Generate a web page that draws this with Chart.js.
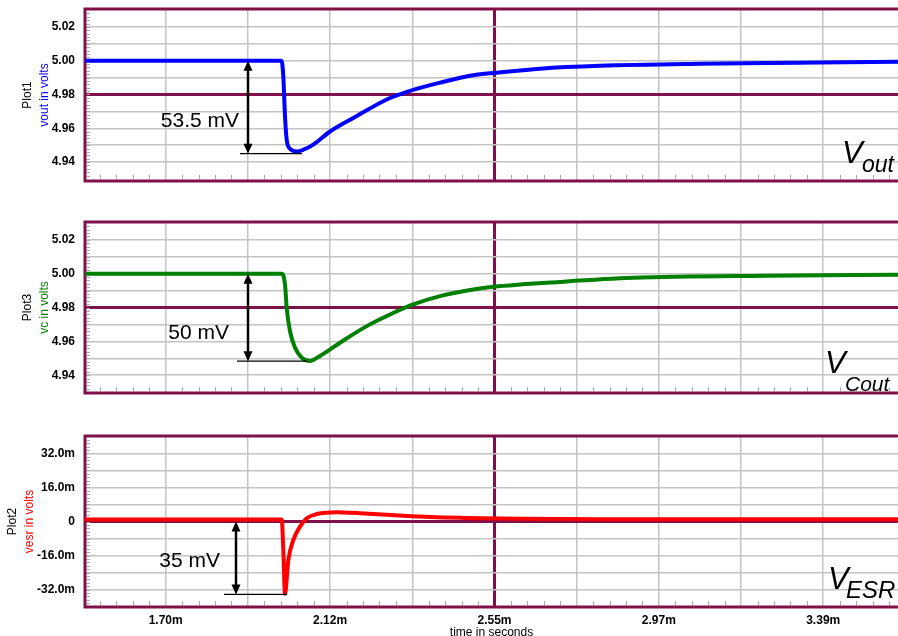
<!DOCTYPE html>
<html>
<head>
<meta charset="utf-8">
<script src="https://cdn.jsdelivr.net/npm/chart.js@4.4.1/dist/chart.umd.min.js"></script>
<style>
html, body { margin: 0; padding: 0; background: #fff; }
#wrap { position: relative; width: 898px; height: 636px; overflow: hidden; }
#wrap canvas { position: absolute; left: 0; top: 0; }
</style>
</head>
<body>
<div id="wrap">
  <canvas id="plot1" width="898" height="636"></canvas>
  <canvas id="plot3" width="898" height="636"></canvas>
  <canvas id="plot2" width="898" height="636"></canvas>
</div>
<script>
// time axis, in ms
const timeMin = 1.4922, timeMax = 3.5859;
const timeGrid = [1.7000, 1.9117, 2.1233, 2.3350, 2.5467, 2.7583, 2.9700, 3.1817, 3.3933];
const timeLabels = ['1.70m', '', '2.12m', '', '2.55m', '', '2.97m', '', '3.39m'];

// voltage axes (Plot1 / Plot3)
const voltGrid = [4.94, 4.95, 4.96, 4.97, 4.98, 4.99, 5.00, 5.01, 5.02];
const voltLabels = ['4.94', '', '4.96', '', '4.98', '', '5.00', '', '5.02'];
// esr axis (Plot2), in mV
const esrGrid = [-32, -24, -16, -8, 0, 8, 16, 24, 32];
const esrLabels = ['-32.0m', '', '-16.0m', '', '0', '', '16.0m', '', '32.0m'];

// vout
const tVout = [1.4922, 1.9983, 2.0029, 2.0073, 2.0116, 2.0201, 2.0374, 2.0544, 2.0801, 2.1232, 2.1832,
               2.2733, 2.3215, 2.4064, 2.4914, 2.5532, 2.6640, 2.8185, 3.0760, 3.3335, 3.5859];
const vout = [5.000, 5.000, 4.9907, 4.9670, 4.9532, 4.9479, 4.9463, 4.9473, 4.9503, 4.9581, 4.9661,
              4.9775, 4.9816, 4.9870, 4.9914, 4.9929, 4.9953, 4.9970, 4.9982, 4.9988, 4.9994];
// vc
const tVc = [1.4922, 1.9988, 2.0073, 2.0116, 2.0201, 2.0330, 2.0503, 2.0716, 2.0974, 2.1489, 2.2177,
             2.2777, 2.3377, 2.4064, 2.4922, 2.5437, 2.7154, 2.9034, 3.2485, 3.5859];
const vc = [5.000, 5.000, 4.9935, 4.9798, 4.9661, 4.9563, 4.9504, 4.9484, 4.9514, 4.9592, 4.9690,
            4.9759, 4.9818, 4.9867, 4.9906, 4.9922, 4.9951, 4.9975, 4.9988, 4.9994];
// vesr (mV)
const tVesr = [1.4922, 1.9988, 2.0029, 2.0073, 2.0158, 2.0287, 2.0459, 2.0632, 2.0889, 2.1404, 2.2004,
               2.3120, 2.3807, 2.4665, 2.6125, 2.8185, 3.5859];
const vesr = [0.9, 0.9, -13.4, -34.0, -18.1, -8.7, -2.4, 1.5, 3.5, 4.4, 3.9,
              2.7, 2.1, 1.7, 1.3, 1.0, 1.0];

const MAROON = '#80104a';
const GRID = '#c4c4c4';
const FONT = "'Liberation Sans', Arial, sans-serif";

const pts = (ts, vs) => ts.map((t, i) => ({ x: t, y: vs[i] }));

// small tick marks along bottom edge: 5 per grid interval
const gridStep = timeGrid[1] - timeGrid[0];
const minorTimes = [];
for (let i = -5; i < timeGrid.length * 5 + 5; i++) {
  if (i % 5 === 0) continue;
  minorTimes.push(timeGrid[0] + i * gridStep / 5);
}

const decor = {
  id: 'decor',
  beforeDatasetsDraw(chart, args, o) {
    const { ctx, chartArea: a, scales: { x, y } } = chart;
    ctx.save();
    ctx.strokeStyle = '#a8a8a8';
    ctx.lineWidth = 1;
    ctx.beginPath();
    minorTimes.forEach(t => {
      const px = Math.round(x.getPixelForValue(t)) + 0.5;
      if (px < a.left + 3 || px > a.right) return;
      ctx.moveTo(px, a.bottom - 1.5);
      ctx.lineTo(px, a.bottom - 6);
    });
    for (let i = 0; ; i++) {
      const v = o.minorStart + i * o.minorStep;
      if (v > y.max) break;
      const py = Math.round(y.getPixelForValue(v)) + 0.5;
      if (py < a.top + 2 || py > a.bottom - 2) continue;
      ctx.moveTo(a.left + 1.5, py);
      ctx.lineTo(a.left + 5, py);
    }
    ctx.stroke();
    // frame
    ctx.strokeStyle = MAROON;
    ctx.lineWidth = 3;
    ctx.beginPath();
    ctx.moveTo(a.right + 3, a.top);
    ctx.lineTo(a.left, a.top);
    ctx.lineTo(a.left, a.bottom);
    ctx.lineTo(a.right + 3, a.bottom);
    ctx.stroke();
    ctx.restore();
  },
  afterDatasetsDraw(chart, args, o) {
    const { ctx, chartArea: a, scales: { x, y } } = chart;
    ctx.save();
    // measurement arrow
    const n = o.note;
    const ax = Math.round(x.getPixelForValue(n.at));
    const y1 = y.getPixelForValue(n.top), y2 = y.getPixelForValue(n.bottom);
    ctx.strokeStyle = '#000';
    ctx.fillStyle = '#000';
    ctx.lineWidth = 1.2;
    ctx.beginPath();
    ctx.moveTo(x.getPixelForValue(n.from), y2);
    ctx.lineTo(x.getPixelForValue(n.to), y2);
    ctx.stroke();
    ctx.lineWidth = 2.5;
    ctx.beginPath();
    ctx.moveTo(ax, y1 + 6);
    ctx.lineTo(ax, y2 - 6);
    ctx.stroke();
    ctx.beginPath();
    ctx.moveTo(ax, y1); ctx.lineTo(ax - 4.5, y1 + 10); ctx.lineTo(ax + 4.5, y1 + 10); ctx.closePath();
    ctx.moveTo(ax, y2); ctx.lineTo(ax - 4.5, y2 - 10); ctx.lineTo(ax + 4.5, y2 - 10); ctx.closePath();
    ctx.fill();
    ctx.font = '21px ' + FONT;
    ctx.textAlign = 'right';
    ctx.textBaseline = 'middle';
    ctx.fillText(n.text, x.getPixelForValue(n.textX), y.getPixelForValue(n.textY));

    // big signal name
    const s = o.sig;
    ctx.textAlign = 'left';
    ctx.textBaseline = 'alphabetic';
    ctx.font = 'italic 31px ' + FONT;
    ctx.fillText('V', a.right - s.vx, a.bottom - s.vy);
    ctx.font = 'italic ' + s.subSize + 'px ' + FONT;
    ctx.fillText(s.sub, a.right - s.sx, a.bottom - s.sy);

    // rotated axis names
    const cy = (a.top + a.bottom) / 2;
    ctx.font = '12px ' + FONT;
    ctx.textAlign = 'center';
    ctx.textBaseline = 'middle';
    o.names.forEach(nm => {
      ctx.save();
      ctx.translate(nm.x, cy);
      ctx.rotate(-Math.PI / 2);
      ctx.fillStyle = nm.color;
      ctx.fillText(nm.text, 0, 0);
      ctx.restore();
    });
    ctx.restore();
  }
};

function makeChart(id, opts) {
  return new Chart(document.getElementById(id), {
    type: 'line',
    data: {
      datasets: [{
        data: opts.data,
        borderColor: opts.color,
        borderWidth: 4,
        pointRadius: 0,
        cubicInterpolationMode: 'monotone',
        fill: false
      }]
    },
    options: {
      responsive: false,
      devicePixelRatio: 1,
      animation: false,
      events: [],
      layout: { padding: opts.padding },
      plugins: {
        legend: { display: false },
        tooltip: { enabled: false },
        decor: opts.decor
      },
      scales: {
        x: {
          type: 'linear',
          min: timeMin,
          max: timeMax,
          afterBuildTicks: s => { s.ticks = timeGrid.map(v => ({ value: v })); },
          afterFit: s => { s.height = opts.xHeight; s.paddingLeft = 0; s.paddingRight = 0; },
          border: { display: false },
          grid: {
            drawTicks: false,
            color: c => c.tick && c.tick.value === 2.5467 ? MAROON : GRID,
            lineWidth: c => c.tick && c.tick.value === 2.5467 ? 3 : 1.5
          },
          ticks: {
            display: opts.xLabels,
            autoSkip: false,
            maxRotation: 0,
            minRotation: 0,
            padding: 6,
            color: '#000',
            font: { family: FONT, size: 12, weight: 'bold' },
            callback: (v, i) => timeLabels[i]
          },
          title: {
            display: opts.xLabels,
            text: 'time in seconds',
            color: '#000',
            padding: { top: 0, bottom: -3 },
            font: { family: FONT, size: 12, lineHeight: 1 }
          }
        },
        y: {
          type: 'linear',
          min: opts.yMin,
          max: opts.yMax,
          afterBuildTicks: s => { s.ticks = opts.yGrid.map(v => ({ value: v })); },
          afterFit: s => { s.width = 85; s.paddingTop = 0; s.paddingBottom = 0; },
          border: { display: false },
          grid: {
            drawTicks: false,
            color: c => c.tick && c.tick.value === opts.yCenter ? MAROON : GRID,
            lineWidth: c => c.tick && c.tick.value === opts.yCenter ? 3 : 1.5
          },
          ticks: {
            autoSkip: false,
            padding: 10,
            color: '#000',
            font: { family: FONT, size: 12, weight: 'bold' },
            callback: (v, i) => opts.yLabels[i]
          }
        }
      }
    },
    plugins: [decor]
  });
}

makeChart('plot1', {
  data: pts(tVout, vout), color: '#0000ff',
  padding: { top: 9, bottom: 455, left: 0, right: 0 }, xHeight: 0, xLabels: false,
  yMin: 4.9288, yMax: 5.0306, yGrid: voltGrid, yLabels: voltLabels, yCenter: 4.98,
  decor: {
    minorStart: 4.930, minorStep: 0.002,
    note: { at: 1.9117, top: 5.000, bottom: 4.9450, from: 1.8914, to: 2.0510,
            text: '53.5 mV', textX: 1.8888, textY: 4.9640 },
    sig: { sub: 'out', subSize: 23, vx: 56, vy: 18, sx: 36, sy: 9 },
    names: [{ text: 'Plot1', color: '#000', x: 28 }, { text: 'vout in volts', color: '#0000ff', x: 45 }]
  }
});

makeChart('plot3', {
  data: pts(tVc, vc), color: '#008000',
  padding: { top: 222, bottom: 243, left: 0, right: 0 }, xHeight: 0, xLabels: false,
  yMin: 4.9295, yMax: 5.0305, yGrid: voltGrid, yLabels: voltLabels, yCenter: 4.98,
  decor: {
    minorStart: 4.930, minorStep: 0.002,
    note: { at: 1.9117, top: 5.000, bottom: 4.9483, from: 1.8836, to: 2.0640,
            text: '50 mV', textX: 1.8630, textY: 4.9646 },
    sig: { sub: 'Cout', subSize: 21, vx: 73, vy: 20, sx: 53, sy: 2 },
    names: [{ text: 'Plot3', color: '#000', x: 28 }, { text: 'vc in volts', color: '#008000', x: 45 }]
  }
});

makeChart('plot2', {
  data: pts(tVesr, vesr), color: '#ff0000',
  padding: { top: 436, bottom: 0, left: 0, right: 0 }, xHeight: 29, xLabels: true,
  yMin: -40.2, yMax: 40.2, yGrid: esrGrid, yLabels: esrLabels, yCenter: 0,
  decor: {
    minorStart: -40, minorStep: 1.6,
    note: { at: 1.8811, top: 0, bottom: -34.3, from: 1.8502, to: 2.0124,
            text: '35 mV', textX: 1.8399, textY: -18.9 },
    sig: { sub: 'ESR', subSize: 24, vx: 70, vy: 18, sx: 52, sy: 9 },
    names: [{ text: 'Plot2', color: '#000', x: 13 }, { text: 'vesr in volts', color: '#ff0000', x: 30 }]
  }
});
</script>
</body>
</html>
